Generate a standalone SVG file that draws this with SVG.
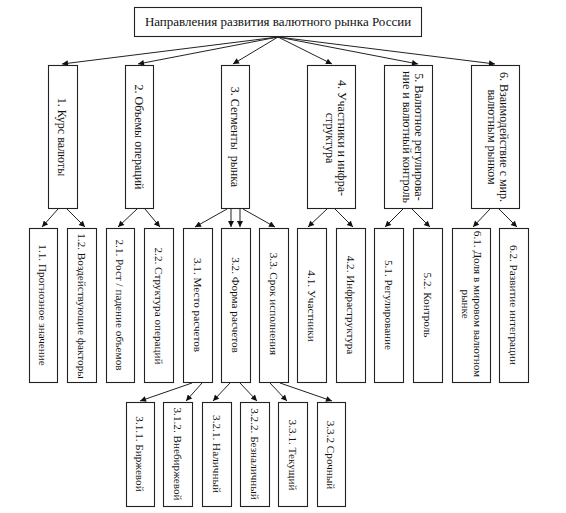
<svg xmlns="http://www.w3.org/2000/svg" width="566" height="513" viewBox="0 0 566 513">
<defs>
<style>
rect.b{fill:#fff;stroke:#222;stroke-width:1.1}
text{font-family:"Liberation Serif","Times New Roman",serif;fill:#111;text-anchor:middle}
.t0{font-size:13px}
.t1{font-size:12px}
.t2{font-size:11.2px}
#connectors line{stroke:#222;stroke-width:1}
</style>
<marker id="ah" viewBox="0 0 10 10" refX="10" refY="5" markerWidth="7" markerHeight="6" markerUnits="userSpaceOnUse" orient="auto">
<path d="M0,0 L10,5 L0,10 Z" fill="#111"/>
</marker>
</defs>
<rect width="566" height="513" fill="#fff"/>

<g id="connectors">
<line x1="278" y1="37" x2="62" y2="64" marker-end="url(#ah)"/>
<line x1="278" y1="37" x2="138" y2="64" marker-end="url(#ah)"/>
<line x1="278" y1="37" x2="233" y2="64" marker-end="url(#ah)"/>
<line x1="278" y1="37" x2="332" y2="64" marker-end="url(#ah)"/>
<line x1="278" y1="37" x2="418" y2="64" marker-end="url(#ah)"/>
<line x1="278" y1="37" x2="495" y2="64" marker-end="url(#ah)"/>

<line x1="58" y1="209" x2="42" y2="227" marker-end="url(#ah)"/>
<line x1="67" y1="209" x2="85" y2="227" marker-end="url(#ah)"/>
<line x1="137" y1="209" x2="118" y2="227" marker-end="url(#ah)"/>
<line x1="145" y1="209" x2="160" y2="227" marker-end="url(#ah)"/>
<line x1="227" y1="209" x2="195" y2="227" marker-end="url(#ah)"/>
<line x1="231" y1="209" x2="231" y2="227" marker-end="url(#ah)"/>
<line x1="240" y1="209" x2="240" y2="227" marker-end="url(#ah)"/>
<line x1="243" y1="209" x2="275" y2="227" marker-end="url(#ah)"/>
<line x1="327" y1="209" x2="308" y2="227" marker-end="url(#ah)"/>
<line x1="335" y1="209" x2="353" y2="227" marker-end="url(#ah)"/>
<line x1="403" y1="209" x2="385" y2="227" marker-end="url(#ah)"/>
<line x1="412" y1="209" x2="430" y2="227" marker-end="url(#ah)"/>
<line x1="490" y1="209" x2="473" y2="227" marker-end="url(#ah)"/>
<line x1="499" y1="209" x2="517" y2="227" marker-end="url(#ah)"/>

<line x1="192" y1="383" x2="140" y2="401" marker-end="url(#ah)"/>
<line x1="202" y1="383" x2="186" y2="401" marker-end="url(#ah)"/>
<line x1="230" y1="383" x2="213" y2="401" marker-end="url(#ah)"/>
<line x1="240" y1="383" x2="257" y2="401" marker-end="url(#ah)"/>
<line x1="270" y1="383" x2="287" y2="401" marker-end="url(#ah)"/>
<line x1="280" y1="383" x2="332" y2="401" marker-end="url(#ah)"/>
</g>

<g id="title">
<rect class="b" x="134.5" y="7.5" width="287" height="29"/>
<text class="t0" x="278" y="26">Направления развития валютного рынка России</text>
</g>

<g id="n1">
<rect class="b" x="48.5" y="65.5" width="29" height="143"/>
<text class="t1" transform="translate(62,137) rotate(90)" y="4">1. Курс валюты</text>
</g>
<g id="n2">
<rect class="b" x="125.5" y="65.5" width="28" height="143"/>
<text class="t1" transform="translate(139,137) rotate(90)" y="4">2. Объемы операций</text>
</g>
<g id="n3">
<rect class="b" x="221.5" y="65.5" width="28" height="143"/>
<text class="t1" transform="translate(235,137) rotate(90)" y="4" xml:space="preserve">3. Сегменты  рынка</text>
</g>
<g id="n4">
<rect class="b" x="307.5" y="65.5" width="48" height="143"/>
<text class="t1" transform="translate(336,138) rotate(90)"><tspan x="0" y="-2">4. Участники и инфра-</tspan><tspan x="0" y="10">структура</tspan></text>
</g>
<g id="n5">
<rect class="b" x="384.5" y="65.5" width="48" height="143"/>
<text class="t1" transform="translate(413,137) rotate(90)"><tspan x="0" y="-2">5. Валютное регулирова-</tspan><tspan x="0" y="10">ние и валютный контроль</tspan></text>
</g>
<g id="n6">
<rect class="b" x="471.5" y="65.5" width="48" height="143"/>
<text class="t1" transform="translate(498,137) rotate(90)"><tspan x="0" y="-2">6. Взаимодействие с мир.</tspan><tspan x="0" y="10">валютным рынком</tspan></text>
</g>

<g id="n1_1">
<rect class="b" x="29.5" y="228.5" width="28" height="154"/>
<text class="t2" transform="translate(43,305) rotate(90)" y="4">1.1. Прогнозное значение</text>
</g>
<g id="n1_2">
<rect class="b" x="67.5" y="228.5" width="29" height="154"/>
<text class="t2" transform="translate(82,306) rotate(90)" y="4">1.2. Воздействующие факторы</text>
</g>
<g id="n2_1">
<rect class="b" x="106.5" y="228.5" width="28" height="154"/>
<text class="t2" transform="translate(120,305) rotate(90)" y="4">2.1. Рост / падение объемов</text>
</g>
<g id="n2_2">
<rect class="b" x="144.5" y="228.5" width="29" height="154"/>
<text class="t2" transform="translate(159,306) rotate(90)" y="4">2.2. Структура операций</text>
</g>
<g id="n3_1">
<rect class="b" x="183.5" y="228.5" width="29" height="154"/>
<text class="t2" transform="translate(198,305) rotate(90)" y="4">3.1. Место расчетов</text>
</g>
<g id="n3_2">
<rect class="b" x="221.5" y="228.5" width="29" height="154"/>
<text class="t2" transform="translate(236,305) rotate(90)" y="4">3.2. Форма расчетов</text>
</g>
<g id="n3_3">
<rect class="b" x="259.5" y="228.5" width="29" height="154"/>
<text class="t2" transform="translate(274,304) rotate(90)" y="4">3.3. Срок исполнения</text>
</g>
<g id="n4_1">
<rect class="b" x="297.5" y="228.5" width="29" height="154"/>
<text class="t2" transform="translate(312,306) rotate(90)" y="4">4.1. Участники</text>
</g>
<g id="n4_2">
<rect class="b" x="336.5" y="228.5" width="29" height="154"/>
<text class="t2" transform="translate(351,305) rotate(90)" y="4">4.2. Инфраструктура</text>
</g>
<g id="n5_1">
<rect class="b" x="374.5" y="228.5" width="29" height="154"/>
<text class="t2" transform="translate(389,305) rotate(90)" y="4">5.1. Регулирование</text>
</g>
<g id="n5_2">
<rect class="b" x="413.5" y="228.5" width="29" height="154"/>
<text class="t2" transform="translate(428,305) rotate(90)" y="4">5.2. Контроль</text>
</g>
<g id="n6_1">
<rect class="b" x="452.5" y="228.5" width="38" height="154"/>
<text class="t2" transform="translate(472,304) rotate(90)"><tspan x="0" y="-2">6.1. Доля в мировом валютном</tspan><tspan x="0" y="10">рынке</tspan></text>
</g>
<g id="n6_2">
<rect class="b" x="499.5" y="228.5" width="29" height="154"/>
<text class="t2" transform="translate(514,305) rotate(90)" y="4">6.2. Развитие интеграции</text>
</g>

<g id="n3_1_1">
<rect class="b" x="126.5" y="402.5" width="28" height="104"/>
<text class="t2" transform="translate(140,454) rotate(90)" y="4">3.1.1. Биржевой</text>
</g>
<g id="n3_1_2">
<rect class="b" x="163.5" y="402.5" width="29" height="104"/>
<text class="t2" transform="translate(178,454) rotate(90)" y="4">3.1.2. Внебиржевой</text>
</g>
<g id="n3_2_1">
<rect class="b" x="202.5" y="402.5" width="29" height="104"/>
<text class="t2" transform="translate(217,454) rotate(90)" y="4">3.2.1. Наличный</text>
</g>
<g id="n3_2_2">
<rect class="b" x="240.5" y="402.5" width="29" height="104"/>
<text class="t2" transform="translate(255,454) rotate(90)" y="4">3.2.2. Безналичный</text>
</g>
<g id="n3_3_1">
<rect class="b" x="278.5" y="402.5" width="29" height="104"/>
<text class="t2" transform="translate(293,455) rotate(90)" y="4">3.3.1. Текущий</text>
</g>
<g id="n3_3_2">
<rect class="b" x="317.5" y="402.5" width="28" height="104"/>
<text class="t2" transform="translate(331,455) rotate(90)" y="4">3.3.2 Срочный</text>
</g>
</svg>
